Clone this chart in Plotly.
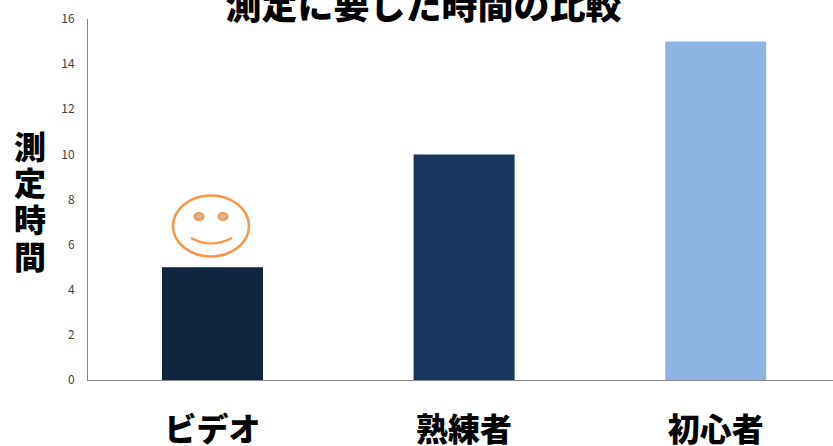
import plotly.graph_objects as go

categories = ["ビデオ", "熟練者", "初心者"]
durations = [5, 10, 15]
bar_colors = ["#10253F", "#17375E", "#8EB4E3"]
y_ticks = [0, 2, 4, 6, 8, 10, 12, 14, 16]
y_title = "測定時間"
y_title_rows = [145, 181, 218, 255]

WIDTH, HEIGHT = 833, 446
LEFT, RIGHT, TOP, BOTTOM = 88, 833, 19, 380
CJK = "Noto Sans CJK JP"
ORANGE = "#F79646"

# Category slots are 251.6 px wide, with the first centred at x = 212.5 px
SLOT = 251.6
FIRST_CENTRE = 212.5


def fx(px):
    return (px - LEFT) / (RIGHT - LEFT)


def fy(py):
    return (BOTTOM - py) / (BOTTOM - TOP)


def ellipse(cx, cy, rx, ry, **style):
    return dict(type="circle", xref="paper", yref="paper",
                x0=fx(cx - rx), x1=fx(cx + rx), y0=fy(cy + ry), y1=fy(cy - ry), **style)


fig = go.Figure(go.Bar(
    x=categories,
    y=durations,
    width=101 / SLOT,
    marker=dict(color=bar_colors, line=dict(width=0)),
    hoverinfo="x+y",
))

# Hand-drawn smiley sitting above the first bar
smile = f"M {fx(191)} {fy(238)} Q {fx(211)} {fy(249)} {fx(232)} {fy(238)}"
shapes = [
    ellipse(211, 226, 38, 30.5, line=dict(color=ORANGE, width=2.5)),
    ellipse(199, 216.5, 4.5, 3.5, line=dict(color=ORANGE, width=2.2), fillcolor="#CDB9A5"),
    ellipse(223, 216.5, 4.5, 3.5, line=dict(color=ORANGE, width=2.2), fillcolor="#CDB9A5"),
    dict(type="path", xref="paper", yref="paper", path=smile, line=dict(color=ORANGE, width=2.2)),
]

# The vertical axis title is stacked one character per row
title_rows = [
    dict(
        text=ch,
        xref="paper", yref="paper",
        x=fx(29.5), y=fy(row),
        xanchor="center", yanchor="middle",
        height=36,
        showarrow=False,
        font=dict(family=CJK, size=32, color="black", weight=900),
    )
    for ch, row in zip(y_title, y_title_rows)
]

fig.update_layout(
    width=WIDTH,
    height=HEIGHT,
    margin=dict(l=LEFT, r=WIDTH - RIGHT, t=TOP, b=HEIGHT - BOTTOM, autoexpand=False),
    paper_bgcolor="white",
    plot_bgcolor="white",
    showlegend=False,
    shapes=shapes,
    title=dict(
        text="測定に要した時間の比較",
        font=dict(family=CJK, size=36, color="black", weight=900),
        x=423.5 / WIDTH, xanchor="center",
        y=1 - 6 / HEIGHT, yanchor="middle",
    ),
    annotations=title_rows,
    xaxis=dict(
        type="category",
        range=[(LEFT - FIRST_CENTRE) / SLOT, (RIGHT - FIRST_CENTRE) / SLOT],
        showgrid=False,
        showline=True,
        linecolor="#868686",
        linewidth=1,
        ticks="outside",
        ticklen=22,
        tickcolor="rgba(0,0,0,0)",
        tickfont=dict(family=CJK, size=32, color="black", weight=900),
    ),
    yaxis=dict(
        range=[0, 16],
        tickvals=y_ticks,
        showgrid=False,
        zeroline=False,
        showline=True,
        linecolor="#868686",
        linewidth=1,
        ticks="outside",
        ticklen=10,
        tickcolor="rgba(0,0,0,0)",
        tickfont=dict(family=CJK, size=12, color="#404040"),
    ),
)

fig.write_html("out.html", config=dict(displayModeBar=False))
